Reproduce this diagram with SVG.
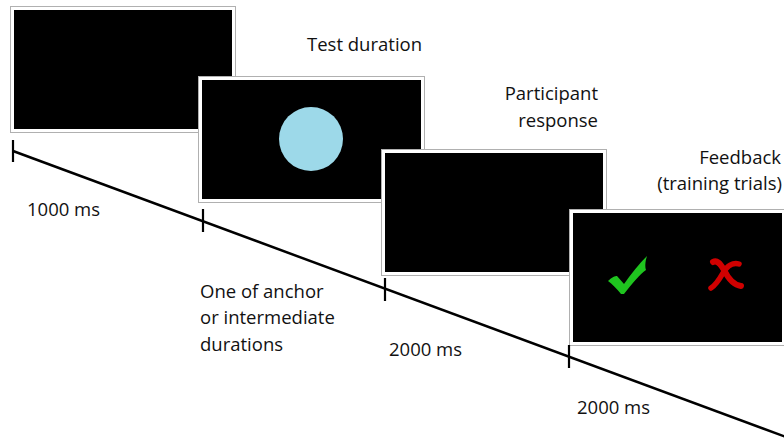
<svg xmlns="http://www.w3.org/2000/svg" width="784" height="445" viewBox="0 0 784 445">
<style>
.frame{fill:#fff;stroke:#b0b0b0;stroke-width:1}
.screen{fill:#000}
.lbl{font-family:"Open Sans","Liberation Sans",sans-serif;font-size:18.5px;fill:#111}
.tick{stroke:#000;stroke-width:2.2}
</style>
<rect width="784" height="445" fill="#fff"/>
<g id="slide1">
<rect class="frame" x="10.5" y="6.5" width="225" height="126"/>
<rect class="screen" x="14" y="10" width="218" height="119"/>
</g>
<g id="slide2">
<rect class="frame" x="198.5" y="76.5" width="226" height="126"/>
<rect class="screen" x="202" y="80" width="219" height="119"/>
<circle cx="311" cy="139" r="32" fill="#9dd9e9"/>
</g>
<g id="slide3">
<rect class="frame" x="381.5" y="149.5" width="225" height="126"/>
<rect class="screen" x="385" y="153" width="218" height="119"/>
</g>
<g id="slide4">
<rect class="frame" x="569.5" y="209.5" width="216" height="136"/>
<rect class="screen" x="573" y="213" width="209" height="129"/>
<path d="M608,281 C612,277 615,276 617,276 L624,284 C631,274 639,264 647,256 C645,262 645,267 646,270 C640,274 632,284 624,294 L621,294 C617,289 612,284 608,281 Z" fill="#1fc41f"/>
<path d="M713,262 C717,260 720,263 724,270 C728,278 733,285 741,286" fill="none" stroke="#d00000" stroke-width="6" stroke-linecap="round"/>
<path d="M739,264 C733,262 727,266 723,273 C719,280 716,285 711,288" fill="none" stroke="#d00000" stroke-width="5.5" stroke-linecap="round"/>
</g>
<g id="timeline">
<line x1="13" y1="151" x2="786" y2="437" stroke="#000" stroke-width="2.5"/>
<line class="tick" x1="13" y1="140" x2="13" y2="162"/>
<line class="tick" x1="203" y1="209" x2="203" y2="232"/>
<line class="tick" x1="385" y1="278" x2="385" y2="301"/>
<line class="tick" x1="569" y1="345" x2="569" y2="368"/>
</g>
<g id="labels">
<text class="lbl" x="307" y="51">Test duration</text>
<text class="lbl" x="598" y="100" text-anchor="end">Participant</text>
<text class="lbl" x="598" y="127" text-anchor="end">response</text>
<text class="lbl" x="781" y="164" text-anchor="end">Feedback</text>
<text class="lbl" x="782" y="190" text-anchor="end">(training trials)</text>
<text class="lbl" x="27" y="216">1000 ms</text>
<text class="lbl" x="200" y="298">One of anchor</text>
<text class="lbl" x="200" y="324">or intermediate</text>
<text class="lbl" x="200" y="351">durations</text>
<text class="lbl" x="389" y="356">2000 ms</text>
<text class="lbl" x="577" y="414">2000 ms</text>
</g>
</svg>
